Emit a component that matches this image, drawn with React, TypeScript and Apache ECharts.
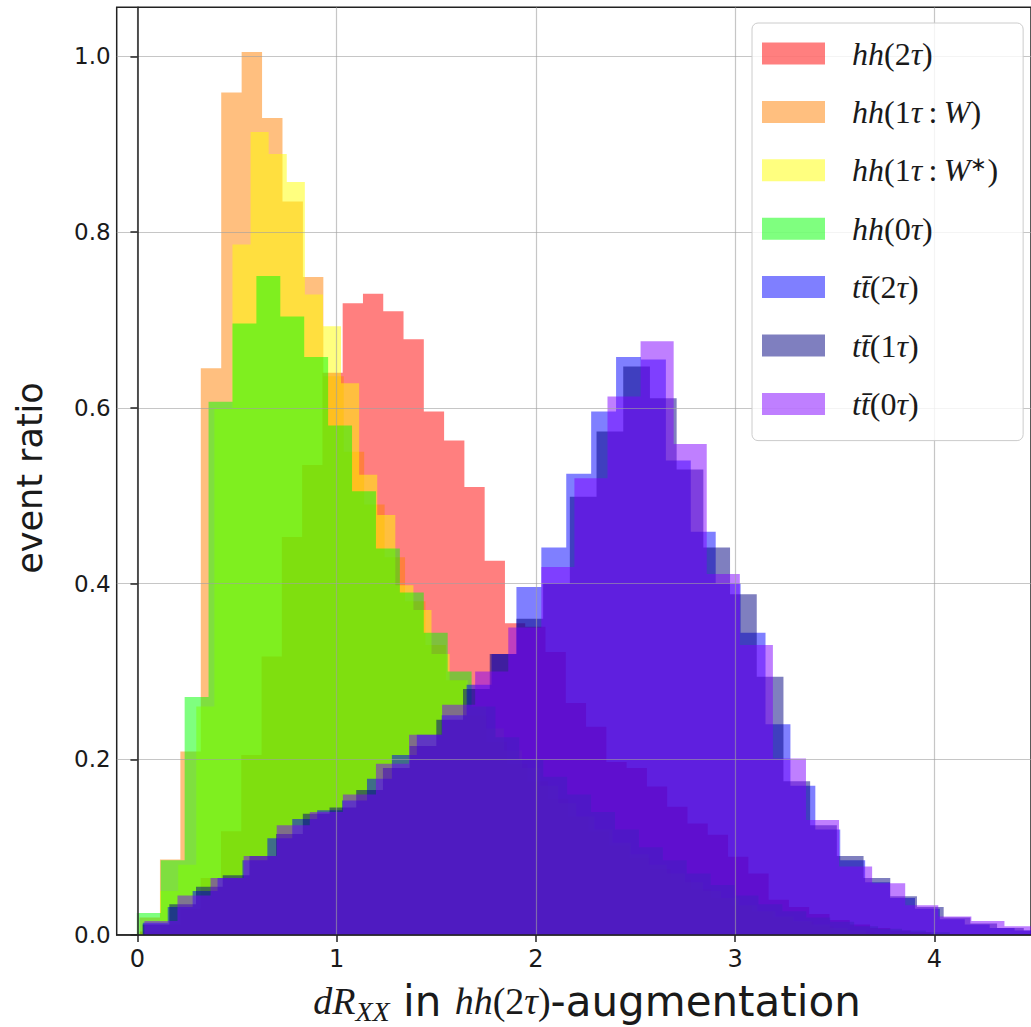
import React, { useEffect, useRef } from "react";
import * as echarts from "echarts";

// ---------------- data ----------------
const seriesNames = [
  "hh(2τ)",
  "hh(1τ:W)",
  "hh(1τ:W*)",
  "hh(0τ)",
  "tt̄(2τ)",
  "tt̄(1τ)",
  "tt̄(0τ)",
];

// left edge of the first bin and bin width of every histogram
const binStarts = [0.012, 0.0105, 0.023, -0.003, 0.027, 0.026, 0.035];
const binWidths = [0.1018, 0.1025, 0.0908, 0.12, 0.125, 0.134, 0.166];

const hh2tau = [
  0.004, 0.012, 0.03, 0.065, 0.118, 0.205, 0.317, 0.453, 0.535, 0.64, 0.719,
  0.73, 0.71, 0.678, 0.596, 0.563, 0.51, 0.426, 0.355, 0.351, 0.322, 0.264,
  0.237, 0.197, 0.19, 0.169, 0.146, 0.127, 0.114, 0.089, 0.07, 0.04, 0.032,
  0.024, 0.017, 0.012, 0.008, 0.005, 0.003,
];
const hh1tauW = [
  0.02, 0.086, 0.209, 0.645, 0.959, 1.005, 0.93, 0.835, 0.749, 0.636, 0.55,
  0.49, 0.43, 0.38, 0.33, 0.29, 0.25, 0.22, 0.195, 0.175, 0.155, 0.135, 0.118,
  0.102, 0.088, 0.075, 0.063, 0.052, 0.042, 0.034, 0.027, 0.02, 0.015, 0.01,
  0.006, 0.004,
];
const hh1tauWstar = [
  0.01, 0.05, 0.08, 0.26, 0.6, 0.786, 0.914, 0.889, 0.857, 0.729, 0.693,
  0.628, 0.524, 0.478, 0.398, 0.37, 0.32, 0.29, 0.26, 0.235, 0.21, 0.19, 0.17,
  0.15, 0.135, 0.12, 0.105, 0.092, 0.08, 0.07, 0.06, 0.05, 0.042, 0.034,
  0.027, 0.021, 0.016, 0.012, 0.008, 0.005,
];
const hh0tau = [
  0.025, 0.085, 0.271, 0.607, 0.696, 0.75, 0.704, 0.658, 0.58, 0.505, 0.44,
  0.39, 0.344, 0.3, 0.26, 0.225, 0.2, 0.18, 0.16, 0.14, 0.12, 0.1, 0.085,
  0.07, 0.057, 0.045, 0.035, 0.027, 0.02, 0.015, 0.01, 0.007, 0.005, 0.003,
];
const tt2tau = [
  0.014, 0.032, 0.05, 0.065, 0.085, 0.11, 0.132, 0.142, 0.153, 0.178, 0.205,
  0.228, 0.25, 0.285, 0.32, 0.396, 0.441, 0.525, 0.596, 0.658, 0.655, 0.54,
  0.459, 0.4, 0.344, 0.24, 0.17, 0.12, 0.085, 0.06, 0.042, 0.03, 0.018,
  0.012, 0.008, 0.005,
];
const tt1tau = [
  0.012, 0.035, 0.055, 0.068, 0.09, 0.115, 0.138, 0.145, 0.165, 0.19, 0.215,
  0.245, 0.28, 0.32, 0.36, 0.4, 0.499, 0.573, 0.647, 0.611, 0.53, 0.441,
  0.388, 0.294, 0.175, 0.125, 0.09, 0.065, 0.044, 0.032, 0.02, 0.013, 0.008,
  0.005,
];
const tt0tau = [
  0.016, 0.045, 0.065, 0.09, 0.125, 0.14, 0.16, 0.195, 0.228, 0.262, 0.3,
  0.35, 0.419, 0.52, 0.613, 0.676, 0.559, 0.411, 0.33, 0.201, 0.131, 0.078,
  0.059, 0.034, 0.021, 0.016, 0.01, 0.005,
];
const seriesValues = [hh2tau, hh1tauW, hh1tauWstar, hh0tau, tt2tau, tt1tau, tt0tau];

const xTicks = [0, 1, 2, 3, 4];
const yTicks = [0, 0.2, 0.4, 0.6, 0.8, 1.0];

// ---------------- style ----------------
const colors = [
  "rgba(255,0,0,0.5)",
  "rgba(255,128,0,0.5)",
  "rgba(255,255,0,0.5)",
  "rgba(0,255,0,0.5)",
  "rgba(0,0,255,0.5)",
  "rgba(0,0,128,0.5)",
  "rgba(128,0,255,0.5)",
];

const legendRich: Record<string, string> = {
  "hh(2τ)": "{g| }{i|hh}{r|(2}{i|τ}{r|)}",
  "hh(1τ:W)": "{g| }{i|hh}{r|(1}{i|τ}{r|\u2009:\u2009}{i|W}{r|)}",
  "hh(1τ:W*)": "{g| }{i|hh}{r|(1}{i|τ}{r|\u2009:\u2009}{i|W}{sup|∗}{r|)}",
  "hh(0τ)": "{g| }{i|hh}{r|(0}{i|τ}{r|)}",
  "tt̄(2τ)": "{g| }{i|tt̄}{r|(2}{i|τ}{r|)}",
  "tt̄(1τ)": "{g| }{i|tt̄}{r|(1}{i|τ}{r|)}",
  "tt̄(0τ)": "{g| }{i|tt̄}{r|(0}{i|τ}{r|)}",
};

const X_MIN = -0.104;
const X_MAX = 4.4843;
const Y_MAX = 1.056;

function histPoints(start: number, width: number, values: number[]) {
  const pts: number[][] = [[start, 0]];
  values.forEach((v, i) => pts.push([start + i * width, v]));
  const end = start + values.length * width;
  pts.push([end, values[values.length - 1]]);
  pts.push([end, 0]);
  return pts;
}

const isTick = (v: number, ticks: number[]) => ticks.some((t) => Math.abs(t - v) < 1e-6);

const TXT = "#1a1a1a";
const SERIF = "Liberation Serif";
const SANS = "DejaVu Sans";
const LEG_FS = 32;

function buildOption(): any {
  return {
    animation: false,
    grid: {
      left: 116.7,
      top: 7.3,
      width: 916.3,
      height: 927.7,
      show: true,
      borderColor: "#222",
      borderWidth: 1.5,
      backgroundColor: "transparent",
      containLabel: false,
    },
    xAxis: {
      type: "value",
      min: X_MIN,
      max: X_MAX,
      minInterval: 1,
      maxInterval: 1,
      z: 10,
      axisLine: { show: true, onZero: false, lineStyle: { color: "#222", width: 1.5 } },
      axisTick: {
        show: true,
        length: 7,
        customValues: xTicks,
        lineStyle: { color: "#222", width: 1.5 },
      },
      splitLine: { show: true, lineStyle: { color: "rgba(160,160,160,0.6)", width: 1.2 } },
      axisLabel: {
        color: TXT,
        fontFamily: SANS,
        fontSize: 24,
        margin: 12,
        customValues: xTicks,
        formatter: (v: number) => (isTick(v, xTicks) ? String(Math.round(v)) : ""),
      },
    },
    yAxis: {
      type: "value",
      min: 0,
      max: Y_MAX,
      interval: 0.2,
      z: 10,
      axisLine: { show: true, lineStyle: { color: "#222", width: 1.5 } },
      axisTick: {
        show: true,
        length: 7,
        customValues: yTicks,
        lineStyle: { color: "#222", width: 1.5 },
      },
      splitLine: { show: true, lineStyle: { color: "rgba(160,160,160,0.6)", width: 1.2 } },
      axisLabel: {
        color: TXT,
        fontFamily: SANS,
        fontSize: 23,
        margin: 6,
        customValues: yTicks,
        formatter: (v: number) => (isTick(v, yTicks) ? v.toFixed(1) : ""),
      },
    },
    legend: {
      orient: "vertical",
      left: 752,
      top: 23,
      z: 20,
      padding: [14.5, 25, 20.7, 10],
      itemWidth: 63,
      itemHeight: 22,
      itemGap: 26.4,
      icon: "rect",
      align: "left",
      backgroundColor: "rgba(255,255,255,0.8)",
      borderColor: "#cccccc",
      borderWidth: 1,
      borderRadius: 6,
      data: seriesNames,
      formatter: (name: string) => legendRich[name] || name,
      textStyle: {
        color: TXT,
        rich: {
          g: { width: 22, fontSize: 10, lineHeight: LEG_FS },
          i: { fontFamily: SERIF, fontStyle: "italic", fontSize: LEG_FS, lineHeight: LEG_FS, color: TXT },
          r: { fontFamily: SERIF, fontSize: LEG_FS, lineHeight: LEG_FS, color: TXT },
          sup: { fontFamily: SERIF, fontSize: 20, lineHeight: LEG_FS, color: TXT, verticalAlign: "top" },
        },
      },
    },
    graphic: [
      {
        type: "text",
        x: 30,
        y: 478,
        rotation: Math.PI / 2,
        style: {
          text: "event ratio",
          fontFamily: SANS,
          fontSize: 35,
          fill: TXT,
          align: "center",
          verticalAlign: "middle",
        },
      },
      {
        type: "text",
        x: 587,
        y: 1001,
        style: {
          text: "{i|dR}{sub|XX}{s| in }{i|hh}{r|(2}{i|τ}{r|)}{s|-augmentation}",
          align: "center",
          verticalAlign: "middle",
          fill: TXT,
          rich: {
            i: { fontFamily: SERIF, fontStyle: "italic", fontSize: 38, lineHeight: 48, fill: TXT },
            sub: {
              fontFamily: SERIF,
              fontStyle: "italic",
              fontSize: 28,
              lineHeight: 30,
              verticalAlign: "bottom",
              fill: TXT,
            },
            s: { fontFamily: SANS, fontSize: 42, lineHeight: 48, fill: TXT },
            r: { fontFamily: SERIF, fontSize: 38, lineHeight: 48, fill: TXT },
          },
        },
      },
    ],
    series: seriesNames.map((name, k) => ({
      type: "line",
      name,
      step: "end",
      silent: true,
      symbol: "none",
      showSymbol: false,
      color: colors[k],
      itemStyle: { color: colors[k] },
      lineStyle: { width: 0, color: colors[k] },
      areaStyle: { color: colors[k], opacity: 1 },
      data: histPoints(binStarts[k], binWidths[k], seriesValues[k]),
    })),
  };
}

export default function App() {
  const ref = useRef<HTMLDivElement>(null);
  useEffect(() => {
    document.body.style.margin = "0";
    document.body.style.overflow = "hidden";
    const chart = echarts.init(ref.current as HTMLDivElement, null, { renderer: "svg" });
    chart.setOption(buildOption());
    return () => chart.dispose();
  }, []);
  return <div ref={ref} style={{ width: 1031, height: 1027 }} />;
}
